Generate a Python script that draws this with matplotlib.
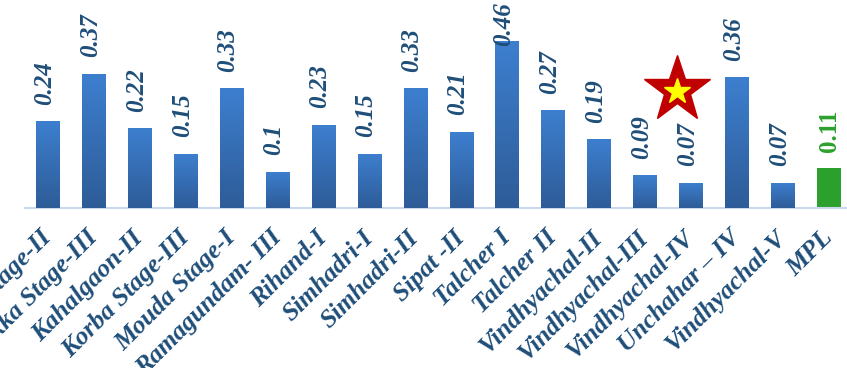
import numpy as np
import matplotlib.pyplot as plt
from matplotlib.colors import LinearSegmentedColormap

# station names and values
stations = ["Dadri Stage-II", "Farakka Stage-III", "Kahalgaon-II", "Korba Stage-III",
            "Mouda Stage-I", "Ramagundam- III", "Rihand-I", "Simhadri-I", "Simhadri-II",
            "Sipat -II", "Talcher I", "Talcher II", "Vindhyachal-II", "Vindhyachal-III",
            "Vindhyachal-IV", "Unchahar \u2013 IV", "Vindhyachal-V", "MPL"]
values = [0.24, 0.37, 0.22, 0.15, 0.33, 0.1, 0.23, 0.15, 0.33, 0.21, 0.46,
          0.27, 0.19, 0.09, 0.07, 0.36, 0.07, 0.11]
star_station = "Vindhyachal-IV"

W, H = 847, 368
fig = plt.figure(figsize=(W / 100, H / 100), dpi=100)
# axes: baseline at y=208px, top at 0, x from 25px to 852px
ax = fig.add_axes([25 / W, (H - 208) / H, 827 / W, 208 / H])
ymax = 0.573
ax.set_xlim(-0.5, len(values) - 0.5)
ax.set_ylim(0, ymax)

x = np.arange(len(values))
bw = 0.52
navy = "#1F4E79"
serif = "Liberation Serif"
grad = LinearSegmentedColormap.from_list("g", ["#2E5C98", "#3D7FCF"])
img = np.linspace(0, 1, 100).reshape(-1, 1)
off = 0.045

for i, v in enumerate(values):
    # label sits above the bar, or is pushed down when it would run off the top
    if v + off + 0.12 > ymax:
        ly, va = ymax - 0.005, "top"
    else:
        ly, va = v + off, "bottom"
    if stations[i] == "MPL":
        ax.bar(i, v, width=bw, color="#2CA02C", zorder=2)
        ax.text(i, ly, f"{v:g}", rotation=90, ha="center", va=va,
                color="#2CA02C", fontsize=18, fontweight="bold", family=serif, zorder=6)
    else:
        b = ax.bar(i, v, width=bw, color="#3570B8", zorder=2)[0]
        im = ax.imshow(img, extent=(i - bw / 2, i + bw / 2, 0, v), origin="lower",
                       cmap=grad, aspect="auto", zorder=3)
        im.set_clip_path(b)
        ax.text(i - 0.08, ly, f"{v:g}", rotation=90, ha="center", va=va,
                color=navy, fontsize=18, fontweight="bold", fontstyle="italic",
                family=serif, zorder=6)

# highlight star
si = stations.index(star_station)
ax.plot(si - 0.3, 0.325, marker="*", markersize=50, color="#C00000",
        markeredgecolor="#C00000", zorder=4)
ax.plot(si - 0.3, 0.322, marker="*", markersize=19, color="#FFFF00",
        markeredgecolor="#FFFF00", zorder=5)

# tick labels end just left of each bar centre
ax.set_xticks(x - 0.18)
ax.set_xticklabels(stations, rotation=45, ha="right", va="top",
                   rotation_mode="anchor", fontsize=18.5, fontweight="bold",
                   fontstyle="italic", family=serif, color=navy)
ax.tick_params(axis="x", length=0, pad=13)
ax.set_yticks([])
for s in ["top", "right", "left"]:
    ax.spines[s].set_visible(False)
ax.spines["bottom"].set_color("#C9D8EC")
ax.spines["bottom"].set_linewidth(1.5)

fig.savefig("out.png", dpi=100)
